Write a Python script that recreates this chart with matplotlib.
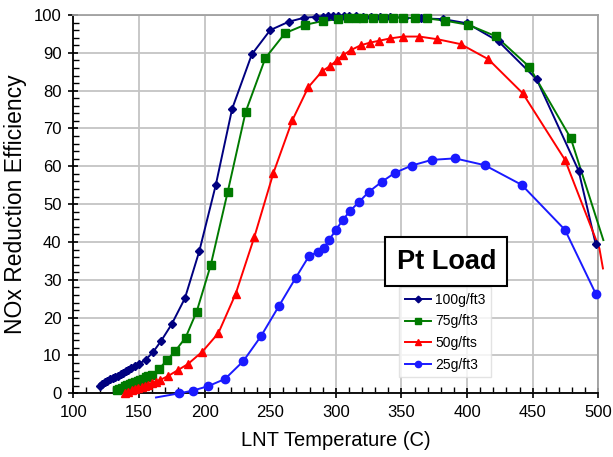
import numpy as np
import matplotlib
matplotlib.use("Agg")
import matplotlib.pyplot as plt
from matplotlib.ticker import MultipleLocator
from matplotlib.lines import Line2D

plt.rcParams['font.family'] = ['Liberation Sans', 'DejaVu Sans']

# 100g/ft3
t100 = [120, 122, 124, 126, 128, 130, 132, 134, 136, 138, 140, 142, 144, 147, 150,
        155, 161, 167, 175, 185, 196, 208.5, 221, 236, 250, 264, 276, 285, 290, 294,
        298, 302, 306, 310, 315, 321, 327, 334, 341, 352, 365, 382, 400, 424, 453,
        485, 498]
e100 = [2.0, 2.5, 2.9, 3.3, 3.7, 4.0, 4.3, 4.6, 5.0, 5.4, 5.8, 6.2, 6.7, 7.2, 7.8,
        8.8, 11.0, 13.9, 18.3, 25.1, 37.6, 55.0, 75.2, 89.6, 96.0, 98.2, 99.3, 99.5,
        99.6, 99.7, 99.7, 99.7, 99.7, 99.7, 99.7, 99.6, 99.6, 99.5, 99.5, 99.3, 99.1,
        98.9, 97.8, 93.0, 83.0, 58.8, 39.4]

# 75g/ft3
t75 = [133, 135, 137, 139, 141, 143, 145, 147, 149, 151, 153, 155, 157, 160, 165,
       171.5, 177.5, 185.5, 194, 204.7, 217.6, 231.3, 246.3, 261.3, 276.5, 290, 302,
       309.5, 315.4, 321, 328.6, 335.7, 343.4, 351.5, 360, 369.3, 383.2, 401, 421.8,
       447.4, 479, 503.8]
e75 = [0.9, 1.2, 1.5, 1.8, 2.1, 2.4, 2.7, 3.0, 3.3, 3.6, 3.9, 4.2, 4.5, 4.9, 6.3,
       8.8, 11.1, 14.7, 21.6, 33.9, 53.2, 74.4, 88.6, 95.2, 97.4, 98.4, 98.9, 99.1,
       99.2, 99.2, 99.3, 99.3, 99.3, 99.3, 99.2, 99.1, 98.5, 97.4, 94.4, 86.3, 67.4,
       40.5]

# 50g/fts
t50 = [139.5, 142, 144.5, 147, 149.5, 152, 154.5, 157, 160, 163, 166, 172.4, 180,
       187.2, 198.3, 210.5, 223.7, 237.9, 252.4, 266.9, 279, 289.7, 295.6, 300.7,
       305.7, 311.3, 319, 326.1, 333.1, 341.3, 351.4, 363.6, 377.3, 395.1, 416.2,
       442.4, 474.6, 500.8, 503.5]
e50 = [0.0, 0.4, 0.8, 1.1, 1.4, 1.7, 2.0, 2.3, 2.7, 3.1, 3.5, 4.6, 6.2, 7.7, 11.0,
       15.9, 26.3, 41.3, 58.2, 72.2, 80.9, 85.2, 86.5, 88.0, 89.4, 90.7, 92.0, 92.7,
       93.2, 93.8, 94.3, 94.3, 93.6, 92.3, 88.3, 79.3, 61.7, 38.3, 33.0]

# 25g/ft3
t25 = [163, 180.8, 191, 202.9, 215.6, 229.5, 243, 256.7, 269.4, 279.6, 286.5, 291,
       295, 299.9, 305.3, 310.8, 317.7, 325.3, 335, 345.1, 357.8, 373.1, 390.8,
       413.4, 441.6, 474.6, 498.2]
e25 = [-1.1, 0.0, 0.7, 1.9, 3.8, 8.5, 15.1, 23.1, 30.5, 36.3, 37.4, 38.5, 40.6,
       43.1, 45.8, 48.2, 50.6, 53.3, 55.9, 58.3, 60.2, 61.7, 62.1, 60.3, 55.1, 43.2,
       26.2]

series = [
    ("100g/ft3", t100, e100, "#000080", "D", 4.5),
    ("75g/ft3", t75, e75, "#007A00", "s", 6),
    ("50g/fts", t50, e50, "#FF0000", "^", 6),
    ("25g/ft3", t25, e25, "#1A1AFF", "o", 6),
]

fig = plt.figure(figsize=(6.13, 4.57), dpi=100)
ax = fig.add_axes([0.1196, 0.1394, 0.8565, 0.8278])

handles = []
for name, t, e, c, m, ms in series:
    t = np.array(t)
    e = np.array(e)
    ax.plot(t, e, color=c, lw=1.4, clip_on=False, zorder=3)
    keep = (t <= 500.5) & (e >= 0)
    ax.plot(t[keep], e[keep], ls="none", marker=m, ms=ms, color=c,
            mec=c, clip_on=False, zorder=4)
    handles.append(Line2D([], [], color=c, lw=1.4, marker=m, ms=ms * 0.75))

ax.set_xlim(100, 500)
ax.set_ylim(0, 100)
ax.xaxis.set_major_locator(MultipleLocator(50))
ax.xaxis.set_minor_locator(MultipleLocator(10))
ax.yaxis.set_major_locator(MultipleLocator(10))
ax.yaxis.set_minor_locator(MultipleLocator(2))
ax.grid(True, which="major", color="#c4c4c4", lw=1.3, zorder=0)
ax.set_axisbelow(True)
ax.tick_params(which="major", direction="inout", length=7, width=1.2,
               labelsize=12, colors="black", pad=5)
ax.tick_params(which="minor", direction="in", length=4, width=1.0)
ax.tick_params(top=False, right=False, which="both")

for s in ["left", "bottom"]:
    ax.spines[s].set_color("black")
    ax.spines[s].set_linewidth(1.3)
for s in ["top", "right"]:
    ax.spines[s].set_color("#a0a0a0")
    ax.spines[s].set_linewidth(1.3)

ax.set_xlabel("LNT Temperature (C)", fontsize=14.5, labelpad=8)
ax.set_ylabel("NOx Reduction Efficiency", fontsize=16.5, labelpad=5)

fig.text(0.728, 0.4271, "Pt Load", fontsize=19.5, fontweight="bold",
         ha="center", va="center",
         bbox=dict(boxstyle="square,pad=0.42", fc="white", ec="black", lw=1.5))

leg = ax.legend(handles, [s[0] for s in series], loc="upper left",
                fontsize=10, frameon=True, fancybox=False, handlelength=1.9,
                handletextpad=0.3, labelspacing=0.55, borderpad=0.4,
                borderaxespad=0)
leg.get_frame().set_edgecolor("#dddddd")
leg.get_frame().set_linewidth(1.0)
leg.set_bbox_to_anchor((399 / 613, 1 - 287.3 / 457), transform=fig.transFigure)

fig.savefig("out.png", dpi=100)
